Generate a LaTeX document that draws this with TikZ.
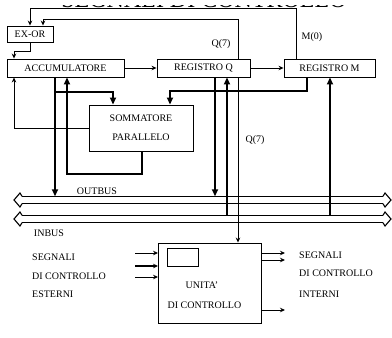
\documentclass[tikz,border=0pt]{standalone}
\usepackage{fontspec}
\setmainfont{Liberation Serif}
\usetikzlibrary{arrows.meta}
\begin{document}
\begin{tikzpicture}[x=1pt,y=-1pt,
  box/.style={draw,line width=0.9pt,inner sep=0pt,font=\fontsize{10}{12}\selectfont},
  lbl/.style={inner sep=0pt,font=\fontsize{10}{12}\selectfont},
  thinline/.style={line width=0.9pt},
  sarrow/.style={line width=0.9pt,-{Stealth[length=5pt,width=4.5pt]}},
  tarrow/.style={line width=2.4pt,-{Triangle[length=7pt,width=6pt]}},
  busline/.style={line width=1.1pt,line join=miter}
]
\useasboundingbox (0,0) rectangle (392,338);

% top clipped title
\begin{scope}
  \clip (0,5) rectangle (392,8);
  \node[inner sep=0pt,anchor=base,font=\fontsize{24}{26}\selectfont] (title) at (204,7) {SEGNALI DI CONTROLLO};
\end{scope}

% boxes
\node[box,minimum width=46pt,minimum height=16pt] (exor) at (30,34) {EX-OR};
\node[box,minimum width=117pt,minimum height=18pt] (acc) at (65.5,68) {ACCUMULATORE};
\node[box,minimum width=93pt,minimum height=18pt] (regq) at (203.5,68) {REGISTRO Q};
\node[box,minimum width=91pt,minimum height=18pt] (regm) at (329.5,68) {REGISTRO M};
\node[box,minimum width=104pt,minimum height=46pt,align=center] (somm) at (141,128) {SOMMATORE\\[7pt]PARALLELO};
\node[draw,line width=0.9pt,minimum width=103pt,minimum height=80pt] (cu) at (210,283) {};
\node[draw,line width=0.9pt,minimum width=31pt,minimum height=18pt] (ir) at (182.5,257) {};
\node[lbl] (cut1) at (202,285) {UNITA'};
\node[lbl] (cut2) at (204.5,305) {DI CONTROLLO};

% buses (double-headed hollow arrows)
\coordinate (obL) at (14,200);
\coordinate (obR) at (391,200);
\coordinate (ibL) at (14,219);
\coordinate (ibR) at (391,219);
\coordinate (obtop) at (0,196.3);
\coordinate (ibtop) at (0,215.3);
\foreach \b in {obL,ibL}{
  \draw[busline] ([shift={(8,-3.7)}]\b) -- ([shift={(6,-7)}]\b) -- (\b) -- ([shift={(6,7)}]\b) -- ([shift={(8,3.7)}]\b);
}
\foreach \b in {obR,ibR}{
  \draw[busline] ([shift={(-8,-3.7)}]\b) -- ([shift={(-6,-7)}]\b) -- (\b) -- ([shift={(-6,7)}]\b) -- ([shift={(-8,3.7)}]\b);
}
\draw[busline] ([shift={(8,-3.7)}]obL) -- ([shift={(-8,-3.7)}]obR);
\draw[busline] ([shift={(8,3.7)}]obL) -- ([shift={(-8,3.7)}]obR);
\draw[busline] ([shift={(8,-3.7)}]ibL) -- ([shift={(-8,-3.7)}]ibR);
\draw[busline] ([shift={(8,3.7)}]ibL) -- ([shift={(-8,3.7)}]ibR);
\node[lbl] (outbus) at (97,191) {OUTBUS};
\node[lbl] (inbus) at (49,233) {INBUS};

% feedback lines to EX-OR
\coordinate (k1) at (296,8);
\coordinate (k2) at (30,8);
\draw[sarrow] (regm.north -| k1) -- (k1) -- (k2) -- (exor.north -| k2);
\coordinate (q1) at (238,19);
\coordinate (q2) at (43,19);
\draw[sarrow] (regq.north -| q1) -- (q1) -- (q2) -- (exor.north -| q2);
\node[lbl] (m0) at (312,37) {M(0)};
\node[lbl] (q7a) at (221,44) {Q(7)};

% EX-OR to ACC
\coordinate (e1) at (30,51);
\coordinate (e2) at (14,51);
\draw[sarrow] (exor.south) -- (e1) -- (e2) -- (acc.north -| e2);

% register chain
\draw[sarrow] (acc.east) -- (regq.west);
\draw[sarrow] (regq.east) -- (regm.west);

% ACC to OUTBUS and to SOMMATORE
\coordinate (a1) at (55,92);
\coordinate (a2) at (113,92);
\draw[tarrow] (acc.south -| a1) -- (a1 |- obtop);
\draw[tarrow] (a1) -- (a2) -- (somm.north -| a2);

% SOMMATORE back to ACC (thick)
\coordinate (s1) at (142,174);
\coordinate (s2) at (67,174);
\draw[tarrow] (somm.south -| s1) -- (s1) -- (s2) -- (acc.south -| s2);

% SOMMATORE carry back to ACC (thin)
\coordinate (c1) at (14,128);
\draw[sarrow] (somm.west) -- (c1) -- (acc.south -| c1);

% REGM to SOMMATORE
\coordinate (r1) at (307,91);
\coordinate (r2) at (170,91);
\draw[tarrow] (regm.south -| r1) -- (r1) -- (r2) -- (somm.north -| r2);

% REGQ / REGM bus links
\coordinate (x215) at (215,0);
\coordinate (x227) at (227,0);
\coordinate (x238) at (238,0);
\coordinate (x330) at (330,0);
\draw[tarrow] (regq.south -| x215) -- (x215 |- obtop);
\draw[tarrow] (x227 |- ibtop) -- (regq.south -| x227);
\draw[sarrow] (regq.south -| x238) -- (cu.north -| x238);
\draw[tarrow] (x330 |- ibtop) -- (regm.south -| x330);
\node[lbl] (q7b) at (255,140) {Q(7)};

% external control inputs
\coordinate (i1) at (135,253);
\coordinate (i2) at (135,266);
\coordinate (i3) at (135,277);
\draw[sarrow] (i1) -- (cu.west |- i1);
\draw[sarrow,line width=1.5pt] (i2) -- (cu.west |- i2);
\draw[sarrow] (i3) -- (cu.west |- i3);
\node[lbl,anchor=west] (le1) at (32,257) {SEGNALI};
\node[lbl,anchor=west] (le2) at (32,276) {DI CONTROLLO};
\node[lbl,anchor=west] (le3) at (32,294) {ESTERNI};

% internal control outputs
\coordinate (o1) at (285,253);
\coordinate (o2) at (285,260);
\coordinate (o3) at (285,310);
\draw[sarrow] (cu.east |- o1) -- (o1);
\draw[sarrow] (cu.east |- o2) -- (o2);
\draw[sarrow] (cu.east |- o3) -- (o3);
\node[lbl,anchor=west] (ri1) at (299,255) {SEGNALI};
\node[lbl,anchor=west] (ri2) at (299,273) {DI CONTROLLO};
\node[lbl,anchor=west] (ri3) at (299,294) {INTERNI};
\end{tikzpicture}
\end{document}
